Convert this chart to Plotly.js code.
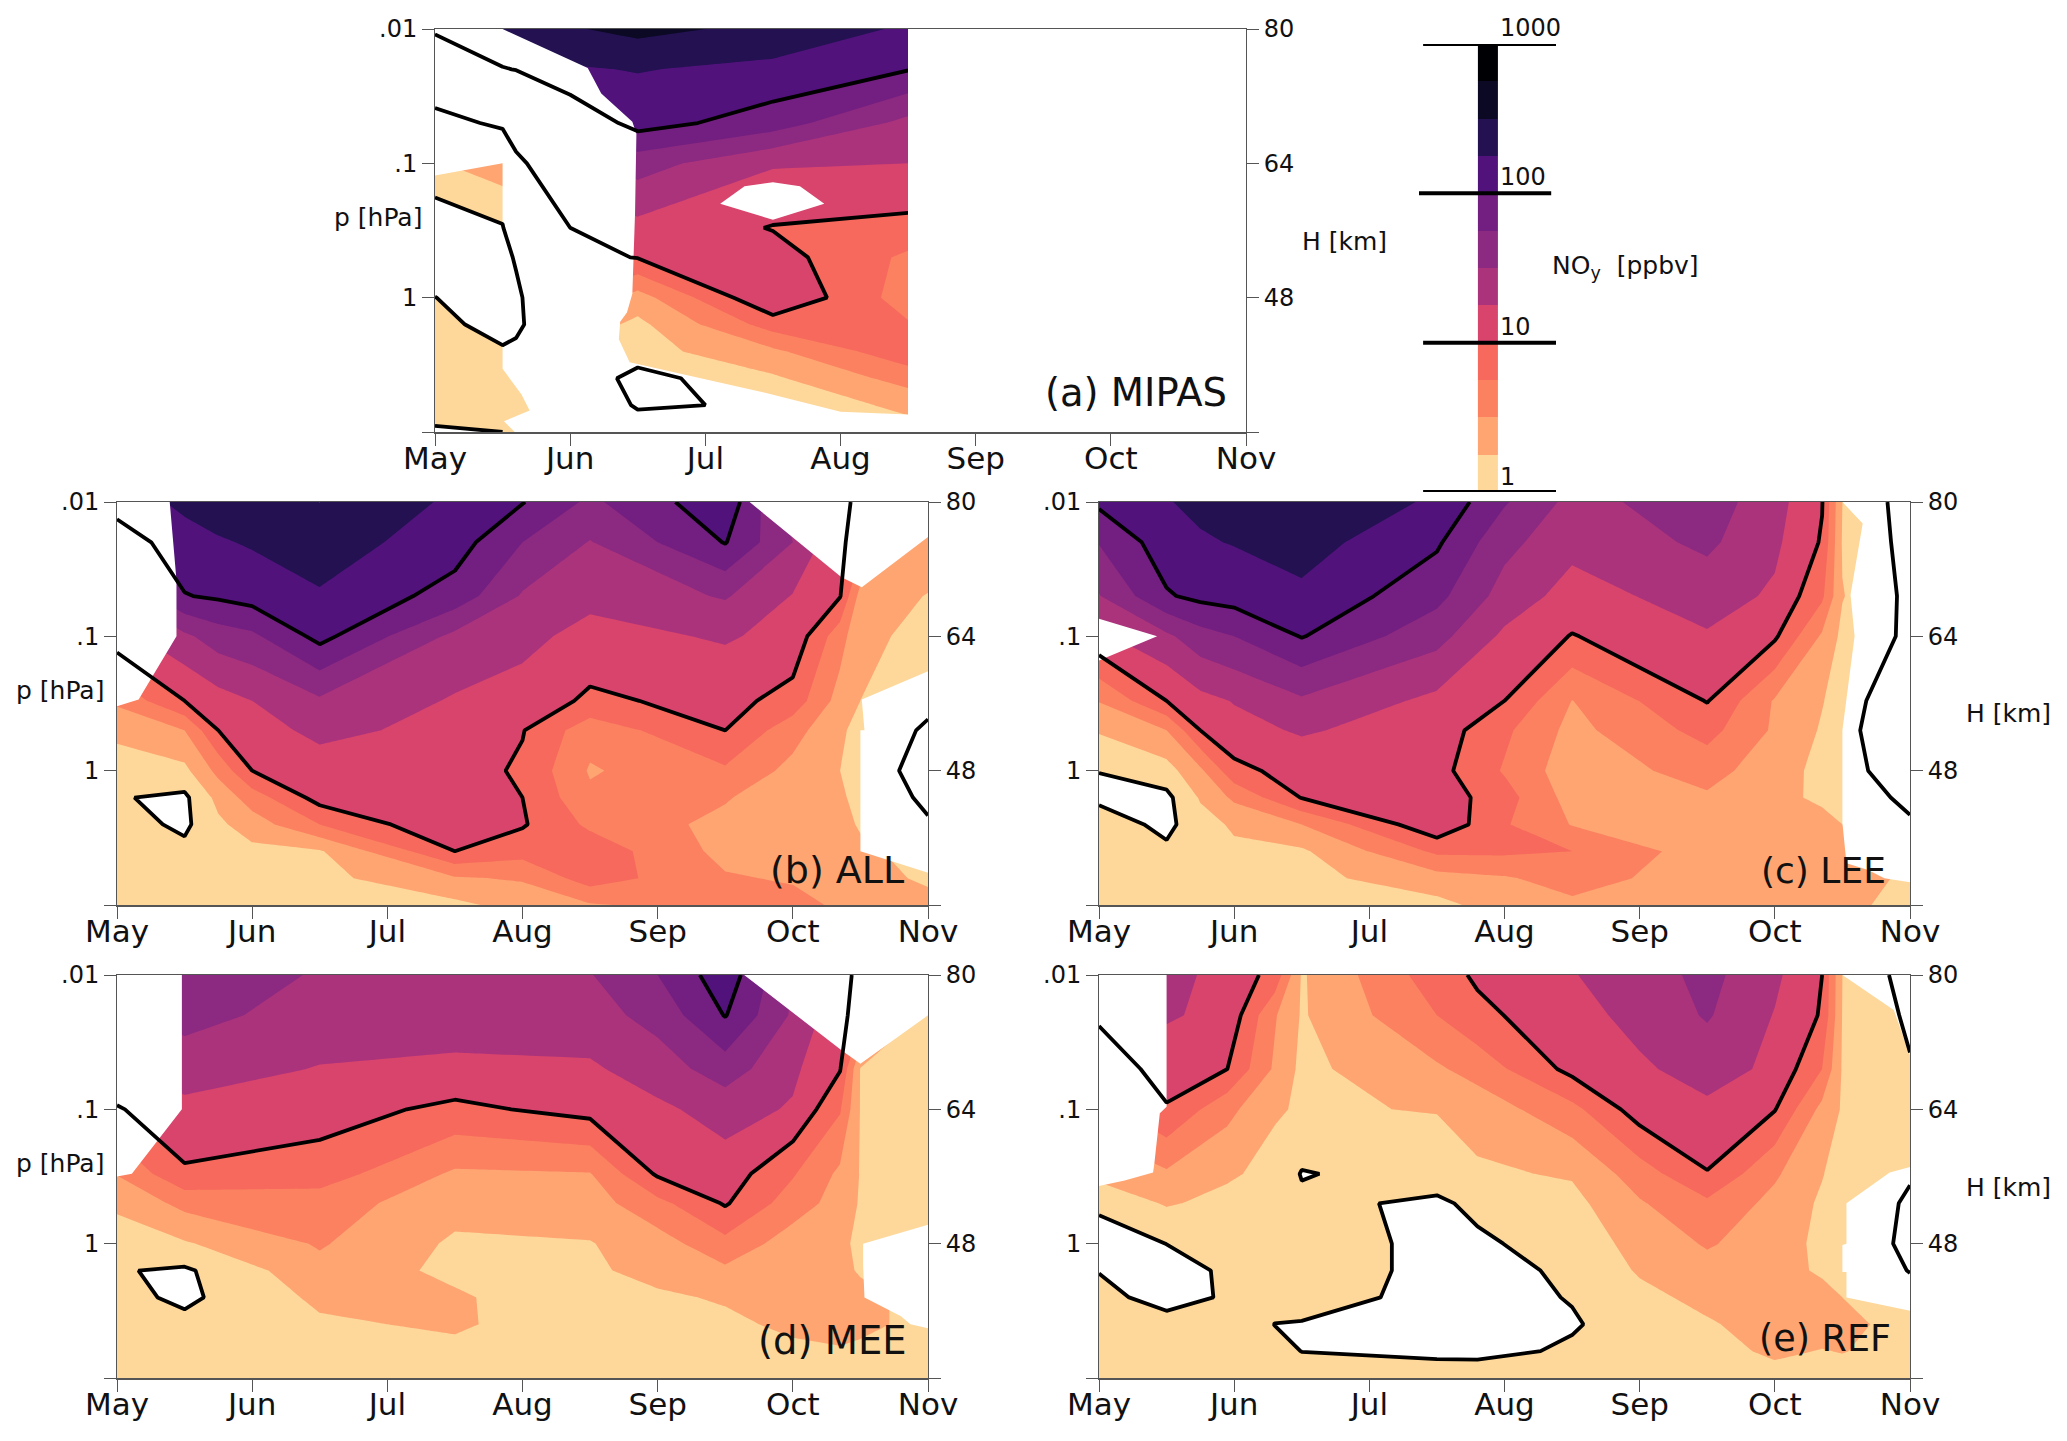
<!DOCTYPE html>
<html><head><meta charset="utf-8">
<script src="https://cdn.plot.ly/plotly-3.0.1.min.js"></script>
<style>html,body{margin:0;padding:0;background:#fff}</style></head>
<body><div id="chart"></div>
<script>
// log10(pressure [hPa]) of the grid rows
const logP = [-2,-1.7,-1.3,-1,-.52,-.3,0,.2,.4,.6,.8,1];
const months = ['May','Jun','Jul','Aug','Sep','Oct','Nov'];
const pLabels = ['.01','.1','1'];
const hLabels = ['80','64','48'];
const cbLabels = ['1','10','100','1000'];
const bandColors = ['#fdd89a','#fea572','#fb8160','#f6695c','#d8446c','#ab337c','#8c2981','#721f81','#51127c','#231151','#0b0924','#000004'];

// Band value per column: 0 = 1 ppbv, 4 = 10 ppbv, 8 = 100 ppbv, 12 = 1000 ppbv
const colsA = [0,.5,.6,1,1.5,2.5,3.5];
const zA = [
 [8.3,6.05,3.2,.9,-.8,-.9,.02,.4,.5,.6,.5,-.15],
 [9.5,7.9,4.4,1.6,-.1,-.6,-.8,-.5,.15,.4,.3,0],
 [9.6,8.05,5,3.6,1.5,.2,-.4,-.3,.3,.7,.7,.4],
 [9.9,8.9,7,5.6,4,3.6,3,1.7,.9,.9,.9,.6],
 [10.3,9.05,8.4,6.45,4.7,4.05,1.55,.75,.6,-.4,-.1,.5],
 [9.7,8.75,7.5,5.1,3.95,4.42,5,3.45,1.8,.85,.1,0],
 [8.85,8.05,5.7,5,3.7,2.8,2.5,3.1,3.7,2.4,1.3,.5]];
const gapXA = [0,.5,1.13,1.23,1.46,1.49,1.48,1.47,1.46,1.42,1.37,1.36,1.44,2.45,3,3.5,3.5,.59,.51,.7,.64,.5,.5,0,null,2.11,2.29,2.5,2.7,2.88,2.5];
const gapYA = [-2,-2,-1.71,-1.52,-1.31,-1.22,-.63,-.28,-.03,.11,.18,.31,.48,.71,.85,.87,1,1,.92,.84,.72,.53,-1,-.91,null,-.7,-.83,-.86,-.83,-.7,-.58];

const colsB = [0,.5,.75,1,1.5,2.5,3,3.5,4.5,5,5.35,5.5,6];
const zB = [
 [8.5,7.33,5.8,4.6,2.2,1.15,.7,.07,.42,.4,.4,.4],
 [9.2,8.65,7.95,5.8,4,2,.75,-.2,-.2,.25,.3,.4],
 [9.5,8.9,8.15,6.5,4.6,4,2.3,1.3,.8,.5,.5,.45],
 [9.7,9.1,8.4,6.8,5,4.6,4,2.5,1.5,.75,.6,.5],
 [9.8,9.5,8.9,8.3,5.85,5.25,4.55,4.4,3,.9,.7,.5],
 [8.85,8.45,7.6,5.75,4.9,4.7,4.45,4.3,4.9,4,1.9,.75],
 [8.05,7,5.9,5.25,4.65,4.05,3.85,4,4.1,3.4,2.1,1.4],
 [6.8,5.95,5.25,4.7,3.8,2.4,1.9,2.2,2.8,3.6,3.5,1.9],
 [8.7,8.05,6.1,5.1,4.35,4,2.85,2.1,1.7,1.7,2.1,2.5],
 [5.5,6,4.95,4.7,3.6,2.4,1.7,1.25,1.4,1.6,1.9,2.3],
 [4.3,4.2,4.05,2.4,1.6,1.15,1,1.15,1.3,1.5,1.75,1.85],
 [3.72,3.47,1.6,1.25,1,.7,.6,.7,.9,1.2,1.35,1.5],
 [1.7,1.75,.95,.7,.25,-.15,-.45,-.2,.1,.6,.85,1.3]];
const gapXB = [0,.39,.44,.44,.16,0,null,4.68,5.36,5.51,6,6,null,6,5.51,5.53,5.5,5.5,6];
const gapYB = [-2,-2,-1.42,-1,-.53,-.48,null,-2,-1.44,-1.365,-1.74,-2,null,-.74,-.53,-.3,-.3,.6,.76];

const colsC = [0,.5,.75,1,1.5,2.5,3,3.5,4.5,5,5.35,5.5,6];
const zC = [
 [8.2,7.05,5.95,4.8,2.05,1.1,.02,-.2,.5,.4,.4,.4],
 [8.95,8.55,7.9,5.8,4,2,.6,-.25,-.25,.18,.4,.4],
 [9.2,8.9,8.25,6.6,4.7,4,1.8,1.1,.6,.45,.4,.4],
 [9.5,9.05,8.4,7,5.05,4.7,3.7,2.2,1.15,.8,.6,.5],
 [9.8,9.4,8.8,8.05,5.85,5.1,4.45,4.05,2,.85,.7,.55],
 [8.85,8.15,7.3,6.35,4.75,4.55,4.35,4.6,4.8,3.2,1.6,.7],
 [7.1,6.3,5.6,4.8,4,3.2,2.9,3.4,3.1,3.2,1.9,1.5],
 [5.7,5.3,4.6,3.95,1.98,1.7,1.4,1.6,1.95,3,2.4,1.8],
 [6.5,6.2,5.45,4.9,4.05,3.35,2.4,1.85,1.6,1.5,1.5,1.4],
 [5.4,5.2,4.85,4.15,1.9,1.85,1.4,1.3,1.4,1.5,1.5,1.4],
 [4.05,3.9,3.2,1.85,1.05,.9,.75,.8,1.35,1.5,1.5,1.3],
 [1,.9,1.05,.75,.6,.5,.4,.5,1,1.35,1.25,1.3],
 [-.5,-.35,-.25,-.2,-1.1,-1.4,-.65,-.2,.11,.4,.9,.6]];
const gapXC = [0,.43,0,null,5.5,5.65,5.56,5.59,5.5,5.5,5.53,5.69,5.81,6,6];
const gapYC = [-1.13,-1,-.82,null,-2,-1.84,-1.31,-1,-.3,.39,.69,.74,.8,.83,-2];

const colsD = [0,.5,1.5,2.5,3.5,4,4.5,5,5.35,5.5,6];
const zD = [
 [6,5.7,4.9,3.9,2.05,1.15,.6,.07,.3,.4,.4,.4],
 [6.7,6.35,5.45,4.75,3.85,2.3,.9,-.15,-.2,.25,.4,.4],
 [5.9,5.55,4.95,4.45,3.5,2.5,2.1,1.7,1.2,.85,.7,.6],
 [5.8,5.45,4.8,3.75,1.85,1.35,.85,.75,1.15,1.15,.75,.6],
 [5.95,5.6,4.85,4.35,1.95,1.55,.95,.85,.2,.3,.3,.3],
 [7,6.35,5.5,4.8,4.15,2.7,1.55,1.3,.85,.5,.35,.3],
 [8.6,8.05,6.5,5.4,4.55,4.1,2.7,1.8,1.1,.8,.5,.4],
 [6,5.85,5.2,4.9,3.1,2.5,1.5,1.4,1.35,1.2,.8,.45],
 [4.4,4.3,4.05,3.1,1.8,1.6,1.2,1.25,1.4,1.4,.9,.5],
 [3.7,3.5,.95,.95,.95,.9,.8,.9,1.3,1.3,.75,.5],
 [.7,.7,.7,.7,.7,.7,.6,.6,.6,.6,.5,.4]];
const gapXD = [0,.48,.48,.11,0,null,4.64,5.36,5.5,6,6,null,6,5.52,5.52,5.53,5.8,5.87,6];
const gapYD = [-2,-2,-1,-.52,-.5,null,-2,-1.44,-1.34,-1.7,-2,null,-.14,0,.16,.4,.54,.6,.63];

const colsE = [0,.5,.95,1.3,1.5,2.5,2.8,3.5,4,4.5,5,5.35,5.5,6];
const zE = [
 [4.8,4.2,3.2,2.6,1.3,.25,-.6,-.05,.4,.5,.5,.5],
 [5.4,5.1,4.5,3.9,1.85,1.1,.01,-.4,-.5,.5,.45,.45],
 [4.6,4.75,4,2.3,1.15,.7,.3,.15,.15,.5,.5,.5],
 [3.7,2.1,1.85,1.1,.7,.5,.5,.45,.3,-.01,.2,.4],
 [.9,.9,.75,.9,-.06,.2,.9,.9,.7,-.1,-.01,.4],
 [3.55,3,1.85,1.05,.4,-.15,-.45,-.45,-.5,-.5,-.3,.7],
 [4.15,3.75,2.4,1.4,.85,.2,-.15,-.4,-.4,-.6,-.3,.65],
 [4.95,4.65,4.3,2.7,1.1,.7,.4,.2,.055,-.1,.15,.5],
 [5.5,5.3,4.85,4.5,2.5,1.9,1.35,1.1,.75,.5,.4,.4],
 [6.3,6.1,5.4,4.8,3.95,2.8,2.1,1.65,1.25,.9,.6,.45],
 [5.2,4.95,4.8,4.05,2.15,1.7,1.5,1.4,1.4,1.4,1.2,.6],
 [4,3.9,3,1.7,1.05,.85,.75,.85,1.35,1.5,.95,.5],
 [1,.95,.9,.9,.6,.4,.3,.6,1,1.35,1.05,.5],
 [-.45,-.18,.08,.2,.05,-.08,-.1,-.03,.3,.5,.5,.45]];
const gapXE = [0,.5,.5,.45,.41,.4,.19,0,null,5.5,5.88,6,6,null,6,5.85,5.53,5.53,5.5,5.5,5.53,5.53,6];
const gapYE = [-2,-2,-1.02,-.97,-.6,-.53,-.47,-.43,null,-2,-1.74,-1.4,-2,null,-.57,-.53,-.3,0,.01,.21,.21,.4,.5];

const panelNames = ['(a) MIPAS','(b) ALL','(c) LEE','(d) MEE','(e) REF'];
const colbarLevels = [0,4,8,12];

const W = 2067, H = 1441, FONT = 'DejaVu Sans, sans-serif', AXC = '#555555';
const keyScale = [];
bandColors.forEach((c,i)=>{ keyScale.push([i/12,c]); keyScale.push([(i+1)/12,c]); });
const px = v => v/W, py = v => 1 - v/H;

const panels = [
 {cols:colsA,z:zA,gx:gapXA,gy:gapYA,box:[435,1246,29,432],tag:[1229,393],ts:38.5,p:[378,217],h:[1344,241]},
 {cols:colsB,z:zB,gx:gapXB,gy:gapYB,box:[117,928,502,905],tag:[906,870],ts:38,p:[60,690]},
 {cols:colsC,z:zC,gx:gapXC,gy:gapYC,box:[1099,1910,502,905],tag:[1888,870],ts:36,h:[2008,713]},
 {cols:colsD,z:zD,gx:gapXD,gy:gapYD,box:[117,928,975,1378],tag:[909,1340],ts:38.5,p:[60,1163]},
 {cols:colsE,z:zE,gx:gapXE,gy:gapYE,box:[1099,1910,975,1378],tag:[1893,1338],ts:36.5,h:[2008,1187]}
];

const traces = [], annos = [];
const layout = {width:W,height:H,margin:{l:0,r:0,t:0,b:0},paper_bgcolor:'#fff',plot_bgcolor:'#fff',showlegend:false,
  font:{family:FONT,color:'#111'}};
const note = (x,y,text,size,anchor) => annos.push({xref:'paper',yref:'paper',x:px(x),y:py(y),text,showarrow:false,
  font:{family:FONT,size,color:'#111'},xanchor:anchor||'center',yanchor:'middle'});

panels.forEach((p,i)=>{
  const n = i+1, ya = 2*i+1, yb = 2*i+2;
  const xn = 'x'+(n===1?'':n), y1 = 'y'+(ya===1?'':ya), y2 = 'y'+yb;
  const [l,r,t,b] = p.box;
  layout['xaxis'+(n===1?'':n)] = {domain:[px(l),px(r)],range:[0,6],anchor:y1,tickmode:'array',tickvals:months.map((m,k)=>k),ticktext:months,
    ticks:'outside',ticklen:12,tickwidth:1,tickcolor:AXC,tickfont:{family:FONT,size:31,color:'#111'},ticklabelstandoff:-14,showline:true,linecolor:AXC,linewidth:1.5,
    mirror:true,showgrid:false,zeroline:false,fixedrange:true};
  const yCommon = {domain:[py(b),py(t)],range:[1,-2],tickmode:'array',tickvals:[-2,-1,0],ticks:'outside',ticklen:12,tickwidth:1,tickcolor:AXC,
    minor:{tickmode:'array',tickvals:[1],ticks:'outside',ticklen:12,tickwidth:1,tickcolor:AXC,showgrid:false},
    tickfont:{family:FONT,size:24,color:'#111'},showline:true,linecolor:AXC,linewidth:1,showgrid:false,zeroline:false,fixedrange:true};
  layout['yaxis'+(ya===1?'':ya)] = Object.assign({},yCommon,{anchor:xn,side:'left',ticktext:pLabels});
  layout['yaxis'+yb] = Object.assign({},yCommon,{anchor:xn,side:'right',overlaying:y1,ticktext:hLabels});

  // Filled regions, painted from the highest band downward.
  // A '>=' constraint here paints the side of the level below the threshold.
  const zTop = Math.max(...p.z.map(c=>Math.max(...c)));
  const paint = (threshold,color) => traces.push({type:'contour',x:p.cols,y:logP,z:p.z.map(col=>col.map(v=>v-threshold)),transpose:true,xaxis:xn,yaxis:y1,autocontour:false,
      contours:{type:'constraint',operation:'>=',value:0,showlines:false},fillcolor:color,line:{width:0,smoothing:0,color:color},
      showscale:false,hoverinfo:'skip'});
  for(let k=bandColors.length-1;k>=0;k--){
    if(k >= zTop) continue;
    paint(Math.min(k+1,zTop-.001),bandColors[k]);
  }
  paint(0,'#ffffff');
  traces.push({type:'scatter',mode:'lines',x:p.gx,y:p.gy,xaxis:xn,yaxis:y1,fill:'toself',fillcolor:'#ffffff',
    line:{width:0,color:'#ffffff'},hoverinfo:'skip'});
  traces.push({type:'contour',x:p.cols,y:logP,z:p.z,transpose:true,xaxis:xn,yaxis:y2,autocontour:false,
    contours:{start:0,end:8,size:4,coloring:'none',showlines:true},line:{width:3.8,color:'#000',smoothing:0},
    showscale:false,hoverinfo:'skip'});

  note(p.tag[0],p.tag[1],panelNames[i],p.ts,'right');
  if(p.p) note(p.p[0],p.p[1],'p [hPa]',25);
  if(p.h) note(p.h[0],p.h[1],'H [km]',25);
});

// Colour key
layout.xaxis6 = {domain:[px(1419),px(1556)],range:[0,1],anchor:'y11',visible:false,fixedrange:true};
layout.yaxis11 = {domain:[py(492),py(44)],range:[0,12],anchor:'x6',visible:false,fixedrange:true};
const keyBands = bandColors.map((c,k)=>[k+.5]);
const keyEdges = [...bandColors.map((c,k)=>k),bandColors.length];
traces.push({type:'heatmap',x:[.43,.577],y:keyEdges,z:keyBands,xaxis:'x6',yaxis:'y11',colorscale:keyScale,zmin:0,zmax:12,zauto:false,showscale:false,hoverinfo:'skip'});
const keyLineX = [[.03,1],[.03,1],[0,.965],[.03,1]];
colbarLevels.forEach((lv,k)=>{
  traces.push({type:'scatter',mode:'lines',x:keyLineX[k],y:[lv,lv],xaxis:'x6',yaxis:'y11',cliponaxis:false,line:{color:'#000',width:4},hoverinfo:'skip'});
});
[477,327,177,28].forEach((y,k)=>note(1498,y,cbLabels[k],24,'left'));
note(1550,267,'NO<sub>y</sub>&nbsp;&nbsp;[ppbv]',25,'left');

layout.annotations = annos;
Plotly.newPlot('chart',traces,layout,{displayModeBar:false,staticPlot:true});
</script></body></html>
